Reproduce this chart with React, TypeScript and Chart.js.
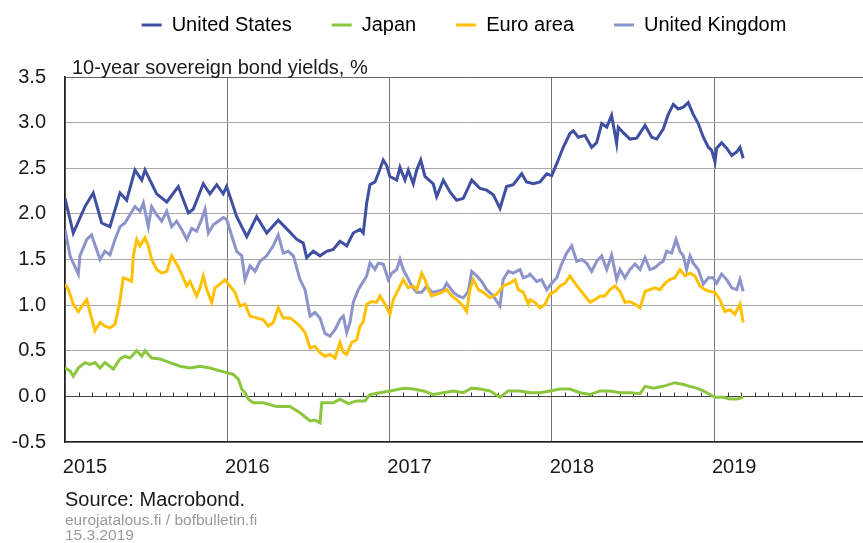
import React, { useEffect, useRef } from "react";
import { Chart, registerables } from "chart.js";

Chart.register(...registerables);

const seriesNames = ["United States", "Japan", "Euro area", "United Kingdom"];
const seriesColors = ["#3f4fa1", "#8cc63f", "#ffc000", "#8d94ca"];
const yearTicks = [2015, 2016, 2017, 2018, 2019];
const chartTitle = "10-year sovereign bond yields, %";
const sourceLine = "Source: Macrobond.";
const siteLine = "eurojatalous.fi / bofbulletin.fi";
const dateLine = "15.3.2019";

// [decimal year, yield %]
const usData: [number, number][] = [
  [2015.0, 2.17], [2015.051, 1.79], [2015.123, 2.08], [2015.174, 2.23], [2015.226, 1.9], [2015.277, 1.86],
  [2015.339, 2.23], [2015.38, 2.15], [2015.431, 2.48], [2015.473, 2.37], [2015.493, 2.48], [2015.565, 2.22],
  [2015.627, 2.13], [2015.698, 2.3], [2015.76, 2.01], [2015.79, 2.05], [2015.852, 2.33], [2015.893, 2.22],
  [2015.935, 2.32], [2015.975, 2.22], [2015.996, 2.3], [2016.058, 1.97], [2016.12, 1.75], [2016.181, 1.97],
  [2016.243, 1.79], [2016.314, 1.93], [2016.386, 1.8], [2016.428, 1.72], [2016.468, 1.68], [2016.489, 1.52],
  [2016.53, 1.59], [2016.571, 1.54], [2016.612, 1.59], [2016.653, 1.61], [2016.694, 1.7], [2016.736, 1.65],
  [2016.776, 1.79], [2016.818, 1.83], [2016.838, 1.79], [2016.859, 2.12], [2016.879, 2.32], [2016.91, 2.35],
  [2016.93, 2.44], [2016.961, 2.59], [2016.982, 2.53], [2017.002, 2.41], [2017.044, 2.37], [2017.064, 2.51],
  [2017.095, 2.37], [2017.115, 2.48], [2017.146, 2.33], [2017.167, 2.48], [2017.192, 2.59], [2017.218, 2.41],
  [2017.269, 2.33], [2017.29, 2.19], [2017.331, 2.37], [2017.372, 2.24], [2017.413, 2.15], [2017.454, 2.17],
  [2017.506, 2.37], [2017.557, 2.28], [2017.598, 2.26], [2017.639, 2.21], [2017.68, 2.06], [2017.721, 2.3],
  [2017.762, 2.32], [2017.814, 2.44], [2017.844, 2.35], [2017.885, 2.33], [2017.927, 2.35], [2017.968, 2.44],
  [2017.999, 2.42], [2018.03, 2.55], [2018.07, 2.73], [2018.111, 2.88], [2018.132, 2.91], [2018.163, 2.84],
  [2018.204, 2.86], [2018.245, 2.73], [2018.276, 2.78], [2018.307, 2.99], [2018.338, 2.95], [2018.368, 3.08],
  [2018.399, 2.77], [2018.409, 2.95], [2018.44, 2.89], [2018.481, 2.82], [2018.523, 2.83], [2018.574, 2.97],
  [2018.615, 2.84], [2018.646, 2.82], [2018.686, 2.93], [2018.717, 3.09], [2018.748, 3.2], [2018.779, 3.15],
  [2018.81, 3.17], [2018.84, 3.22], [2018.871, 3.09], [2018.902, 2.99], [2018.933, 2.84], [2018.964, 2.73],
  [2018.984, 2.7], [2019.005, 2.57], [2019.015, 2.72], [2019.046, 2.78], [2019.077, 2.72], [2019.108, 2.64],
  [2019.139, 2.68], [2019.159, 2.73], [2019.179, 2.61],
];

const jpData: [number, number][] = [
  [2015.0, 0.31], [2015.031, 0.28], [2015.051, 0.22], [2015.082, 0.31], [2015.123, 0.37], [2015.154, 0.35],
  [2015.185, 0.37], [2015.216, 0.31], [2015.246, 0.37], [2015.298, 0.3], [2015.339, 0.41], [2015.37, 0.44],
  [2015.4, 0.42], [2015.442, 0.5], [2015.473, 0.44], [2015.493, 0.5], [2015.534, 0.42], [2015.585, 0.41],
  [2015.647, 0.37], [2015.709, 0.33], [2015.77, 0.31], [2015.832, 0.33], [2015.893, 0.31], [2015.955, 0.28],
  [2015.996, 0.26], [2016.037, 0.24], [2016.068, 0.19], [2016.089, 0.08], [2016.109, 0.04], [2016.129, -0.03],
  [2016.16, -0.07], [2016.222, -0.07], [2016.304, -0.11], [2016.386, -0.11], [2016.448, -0.18], [2016.51, -0.27],
  [2016.54, -0.26], [2016.571, -0.29], [2016.582, -0.07], [2016.653, -0.07], [2016.694, -0.03], [2016.746, -0.08],
  [2016.797, -0.05], [2016.848, -0.05], [2016.879, 0.02], [2016.941, 0.04], [2017.002, 0.06], [2017.064, 0.08],
  [2017.095, 0.09], [2017.146, 0.08], [2017.208, 0.06], [2017.269, 0.02], [2017.331, 0.04], [2017.393, 0.06],
  [2017.454, 0.04], [2017.506, 0.09], [2017.557, 0.08], [2017.619, 0.06], [2017.68, -0.01], [2017.731, 0.06],
  [2017.803, 0.06], [2017.865, 0.04], [2017.927, 0.04], [2017.988, 0.06], [2018.05, 0.08], [2018.111, 0.08],
  [2018.173, 0.04], [2018.235, 0.02], [2018.296, 0.06], [2018.358, 0.06], [2018.42, 0.04], [2018.481, 0.04],
  [2018.543, 0.03], [2018.574, 0.11], [2018.625, 0.09], [2018.686, 0.11], [2018.758, 0.15], [2018.81, 0.13],
  [2018.851, 0.11], [2018.892, 0.09], [2018.933, 0.06], [2018.974, 0.02], [2019.005, -0.01], [2019.056, -0.01],
  [2019.097, -0.03], [2019.139, -0.03], [2019.179, -0.01],
];

const euData: [number, number][] = [
  [2015.0, 1.23], [2015.021, 1.17], [2015.051, 1.01], [2015.082, 0.93], [2015.113, 1.01], [2015.134, 1.06],
  [2015.154, 0.92], [2015.185, 0.72], [2015.216, 0.81], [2015.246, 0.77], [2015.277, 0.75], [2015.308, 0.79],
  [2015.335, 1.01], [2015.359, 1.3], [2015.39, 1.28], [2015.411, 1.26], [2015.421, 1.54], [2015.442, 1.72],
  [2015.462, 1.65], [2015.493, 1.74], [2015.513, 1.65], [2015.534, 1.5], [2015.565, 1.39], [2015.596, 1.35],
  [2015.627, 1.37], [2015.657, 1.54], [2015.688, 1.45], [2015.719, 1.34], [2015.75, 1.21], [2015.77, 1.26],
  [2015.811, 1.1], [2015.832, 1.19], [2015.852, 1.32], [2015.873, 1.17], [2015.904, 1.03], [2015.924, 1.19],
  [2015.955, 1.23], [2015.986, 1.28], [2016.017, 1.21], [2016.047, 1.14], [2016.078, 0.99], [2016.109, 1.01],
  [2016.14, 0.88], [2016.181, 0.86], [2016.222, 0.84], [2016.253, 0.77], [2016.283, 0.81], [2016.314, 0.97],
  [2016.345, 0.86], [2016.386, 0.86], [2016.417, 0.82], [2016.448, 0.77], [2016.479, 0.7], [2016.51, 0.53],
  [2016.54, 0.55], [2016.571, 0.48], [2016.602, 0.44], [2016.633, 0.46], [2016.664, 0.42], [2016.694, 0.59],
  [2016.715, 0.48], [2016.736, 0.46], [2016.767, 0.59], [2016.797, 0.62], [2016.818, 0.77], [2016.838, 0.82],
  [2016.859, 1.01], [2016.89, 1.04], [2016.92, 1.03], [2016.941, 1.1], [2016.972, 1.01], [2017.002, 0.9],
  [2017.023, 1.06], [2017.054, 1.17], [2017.084, 1.28], [2017.115, 1.19], [2017.146, 1.21], [2017.167, 1.17],
  [2017.198, 1.35], [2017.218, 1.28], [2017.239, 1.17], [2017.259, 1.1], [2017.29, 1.12], [2017.321, 1.14],
  [2017.352, 1.17], [2017.383, 1.1], [2017.413, 1.06], [2017.444, 1.01], [2017.475, 0.93], [2017.495, 1.17],
  [2017.516, 1.28], [2017.547, 1.17], [2017.577, 1.14], [2017.619, 1.08], [2017.66, 1.12], [2017.7, 1.21],
  [2017.742, 1.24], [2017.773, 1.28], [2017.793, 1.17], [2017.824, 1.14], [2017.855, 1.01], [2017.865, 1.06],
  [2017.896, 1.03], [2017.927, 0.97], [2017.958, 1.01], [2017.988, 1.12], [2018.019, 1.15], [2018.05, 1.21],
  [2018.081, 1.24], [2018.111, 1.32], [2018.142, 1.24], [2018.173, 1.17], [2018.204, 1.1], [2018.235, 1.03],
  [2018.265, 1.06], [2018.296, 1.1], [2018.327, 1.1], [2018.358, 1.17], [2018.389, 1.21], [2018.42, 1.15],
  [2018.45, 1.03], [2018.481, 1.04], [2018.512, 1.01], [2018.543, 0.97], [2018.574, 1.15], [2018.604, 1.17],
  [2018.635, 1.19], [2018.666, 1.17], [2018.697, 1.24], [2018.727, 1.28], [2018.758, 1.3], [2018.789, 1.39],
  [2018.82, 1.32], [2018.851, 1.35], [2018.881, 1.32], [2018.912, 1.21], [2018.943, 1.17], [2018.974, 1.15],
  [2019.005, 1.14], [2019.035, 1.06], [2019.066, 0.93], [2019.097, 0.95], [2019.127, 0.9], [2019.159, 1.01],
  [2019.179, 0.81],
];

const ukData: [number, number][] = [
  [2015.0, 1.83], [2015.031, 1.54], [2015.082, 1.34], [2015.092, 1.54], [2015.134, 1.72], [2015.164, 1.77],
  [2015.185, 1.66], [2015.216, 1.5], [2015.246, 1.59], [2015.277, 1.55], [2015.308, 1.72], [2015.339, 1.86],
  [2015.37, 1.9], [2015.4, 1.99], [2015.431, 2.08], [2015.462, 2.03], [2015.483, 2.12], [2015.513, 1.86],
  [2015.534, 2.08], [2015.565, 1.99], [2015.596, 1.92], [2015.627, 2.03], [2015.657, 1.86], [2015.688, 1.92],
  [2015.719, 1.83], [2015.75, 1.72], [2015.781, 1.84], [2015.811, 1.81], [2015.842, 1.94], [2015.863, 2.05],
  [2015.883, 1.79], [2015.914, 1.88], [2015.945, 1.92], [2015.975, 1.96], [2015.996, 1.94], [2016.027, 1.76],
  [2016.058, 1.59], [2016.089, 1.54], [2016.109, 1.28], [2016.14, 1.43], [2016.171, 1.37], [2016.201, 1.48],
  [2016.243, 1.54], [2016.283, 1.65], [2016.314, 1.77], [2016.345, 1.57], [2016.376, 1.59], [2016.407, 1.54],
  [2016.437, 1.35], [2016.448, 1.28], [2016.479, 1.17], [2016.51, 0.88], [2016.54, 0.92], [2016.571, 0.86],
  [2016.602, 0.69], [2016.633, 0.66], [2016.664, 0.73], [2016.694, 0.84], [2016.715, 0.88], [2016.736, 0.7],
  [2016.756, 0.81], [2016.776, 1.03], [2016.807, 1.17], [2016.828, 1.23], [2016.859, 1.32], [2016.879, 1.46],
  [2016.91, 1.39], [2016.93, 1.46], [2016.961, 1.45], [2016.992, 1.28], [2017.013, 1.35], [2017.044, 1.39],
  [2017.064, 1.5], [2017.084, 1.39], [2017.105, 1.32], [2017.136, 1.21], [2017.167, 1.14], [2017.198, 1.14],
  [2017.229, 1.21], [2017.259, 1.14], [2017.29, 1.15], [2017.331, 1.17], [2017.352, 1.24], [2017.393, 1.14],
  [2017.423, 1.1], [2017.454, 1.08], [2017.485, 1.15], [2017.506, 1.37], [2017.537, 1.32], [2017.567, 1.26],
  [2017.598, 1.17], [2017.639, 1.1], [2017.68, 0.99], [2017.7, 1.28], [2017.731, 1.37], [2017.762, 1.35],
  [2017.803, 1.39], [2017.824, 1.3], [2017.855, 1.32], [2017.865, 1.34], [2017.906, 1.26], [2017.937, 1.28],
  [2017.968, 1.17], [2017.999, 1.24], [2018.03, 1.3], [2018.06, 1.45], [2018.091, 1.57], [2018.122, 1.65],
  [2018.153, 1.48], [2018.184, 1.5], [2018.214, 1.46], [2018.245, 1.37], [2018.276, 1.48], [2018.307, 1.54],
  [2018.338, 1.39], [2018.368, 1.55], [2018.399, 1.28], [2018.42, 1.39], [2018.45, 1.3], [2018.481, 1.39],
  [2018.512, 1.45], [2018.543, 1.39], [2018.574, 1.52], [2018.604, 1.39], [2018.635, 1.41], [2018.666, 1.46],
  [2018.686, 1.48], [2018.707, 1.59], [2018.738, 1.57], [2018.765, 1.72], [2018.789, 1.59], [2018.81, 1.54],
  [2018.83, 1.39], [2018.851, 1.54], [2018.871, 1.46], [2018.902, 1.39], [2018.933, 1.23], [2018.964, 1.3],
  [2018.994, 1.3], [2019.015, 1.24], [2019.046, 1.34], [2019.077, 1.28], [2019.108, 1.19], [2019.139, 1.17],
  [2019.159, 1.28], [2019.179, 1.15],
];

const allSeries = [usData, jpData, euData, ukData];

const FONT = "'Liberation Sans', Arial, Helvetica, sans-serif";
const LEGEND_PAD = 40;
const LEGEND_GAP_BELOW = 32;

export default function App() {
  const ref = useRef<HTMLCanvasElement>(null);

  useEffect(() => {
    document.body.style.margin = "0";
    const canvas = ref.current;
    if (!canvas) return;

    const legendSpacer = {
      id: "legendSpacer",
      afterInit(chart: any) {
        const legend = chart.legend;
        if (!legend) return;
        const origFit = legend.fit.bind(legend);
        legend.fit = () => {
          origFit();
          legend.height += LEGEND_GAP_BELOW;
        };
      },
    };

    const extras = {
      id: "extras",
      beforeDatasetsDraw(chart: any) {
        const { ctx, chartArea, scales } = chart;
        const x = scales.x;
        const y = scales.y;
        const y0 = Math.round(y.getPixelForValue(0)) + 0.5;
        ctx.save();
        ctx.strokeStyle = "#333";
        ctx.lineWidth = 1;
        for (let m = 1; m < 60; m++) {
          if (m % 12 === 0) continue;
          const px = Math.round(x.getPixelForValue(2015 + m / 12)) + 0.5;
          if (px > chartArea.right) break;
          ctx.beginPath();
          ctx.moveTo(px, y0);
          ctx.lineTo(px, y0 - 4);
          ctx.stroke();
        }
        ctx.restore();
      },
      afterDraw(chart: any) {
        const { ctx, chartArea } = chart;
        ctx.save();
        ctx.textAlign = "left";
        ctx.textBaseline = "alphabetic";
        ctx.fillStyle = "#1a1a1a";
        ctx.font = `20px ${FONT}`;
        ctx.fillText(chartTitle, chartArea.left + 7, chartArea.top - 3);
        ctx.fillText(sourceLine, chartArea.left, 506);
        ctx.fillStyle = "#9a9a9a";
        ctx.font = `15.5px ${FONT}`;
        ctx.fillText(siteLine, chartArea.left, 525);
        ctx.fillText(dateLine, chartArea.left, 540);
        ctx.restore();
      },
    };

    const chart = new Chart(canvas, {
      type: "line",
      data: {
        datasets: allSeries.map((s, i) => ({
          label: seriesNames[i],
          data: s.map(([x, y]) => ({ x, y })),
          borderColor: seriesColors[i],
          backgroundColor: seriesColors[i],
          borderWidth: 3,
          pointRadius: 0,
          tension: 0,
          fill: false,
        })),
      },
      options: {
        animation: false,
        responsive: false,
        devicePixelRatio: 1,
        layout: { padding: { top: 15 - LEGEND_PAD, left: 0, right: 0, bottom: 0 } },
        plugins: {
          tooltip: { enabled: false },
          legend: {
            display: true,
            position: "top",
            align: "center",
            fullSize: false,
            labels: {
              boxWidth: 20,
              boxHeight: 3,
              padding: LEGEND_PAD,
              color: "#1a1a1a",
              font: { family: FONT, size: 20 },
              generateLabels: () =>
                seriesNames.map((name, i) => ({
                  text: name,
                  fillStyle: seriesColors[i],
                  strokeStyle: seriesColors[i],
                  lineWidth: 0,
                  hidden: false,
                  datasetIndex: i,
                })),
            },
          },
        },
        scales: {
          x: {
            type: "linear",
            min: 2015,
            max: 2019.917,
            afterBuildTicks: (s: any) => {
              s.ticks = yearTicks.map((v) => ({ value: v }));
            },
            afterFit: (s: any) => {
              s.height = 101;
            },
            ticks: {
              callback: (v: any) => String(v),
              labelOffset: 20,
              padding: 13,
              maxRotation: 0,
              autoSkip: false,
              color: "#1a1a1a",
              font: { family: FONT, size: 20 },
            },
            grid: { color: "#777", lineWidth: 1, drawTicks: false },
            border: { color: "#222", width: 1.5 },
          },
          y: {
            min: -0.5,
            max: 3.5,
            afterFit: (s: any) => {
              s.width = 65;
            },
            ticks: {
              stepSize: 0.5,
              callback: (v: any) => Number(v).toFixed(1),
              padding: 19,
              color: "#1a1a1a",
              font: { family: FONT, size: 20 },
            },
            grid: {
              drawTicks: false,
              lineWidth: 1,
              color: (c: any) => {
                const v = c.tick ? c.tick.value : null;
                if (v === 0) return "#444";
                if (v === 3.5) return "#666";
                return "#a8a8a8";
              },
            },
            border: { color: "#222", width: 1.5 },
          },
        },
      },
      plugins: [legendSpacer, extras],
    });

    return () => chart.destroy();
  }, []);

  return <canvas ref={ref} width={863} height={543} style={{ display: "block" }} />;
}
